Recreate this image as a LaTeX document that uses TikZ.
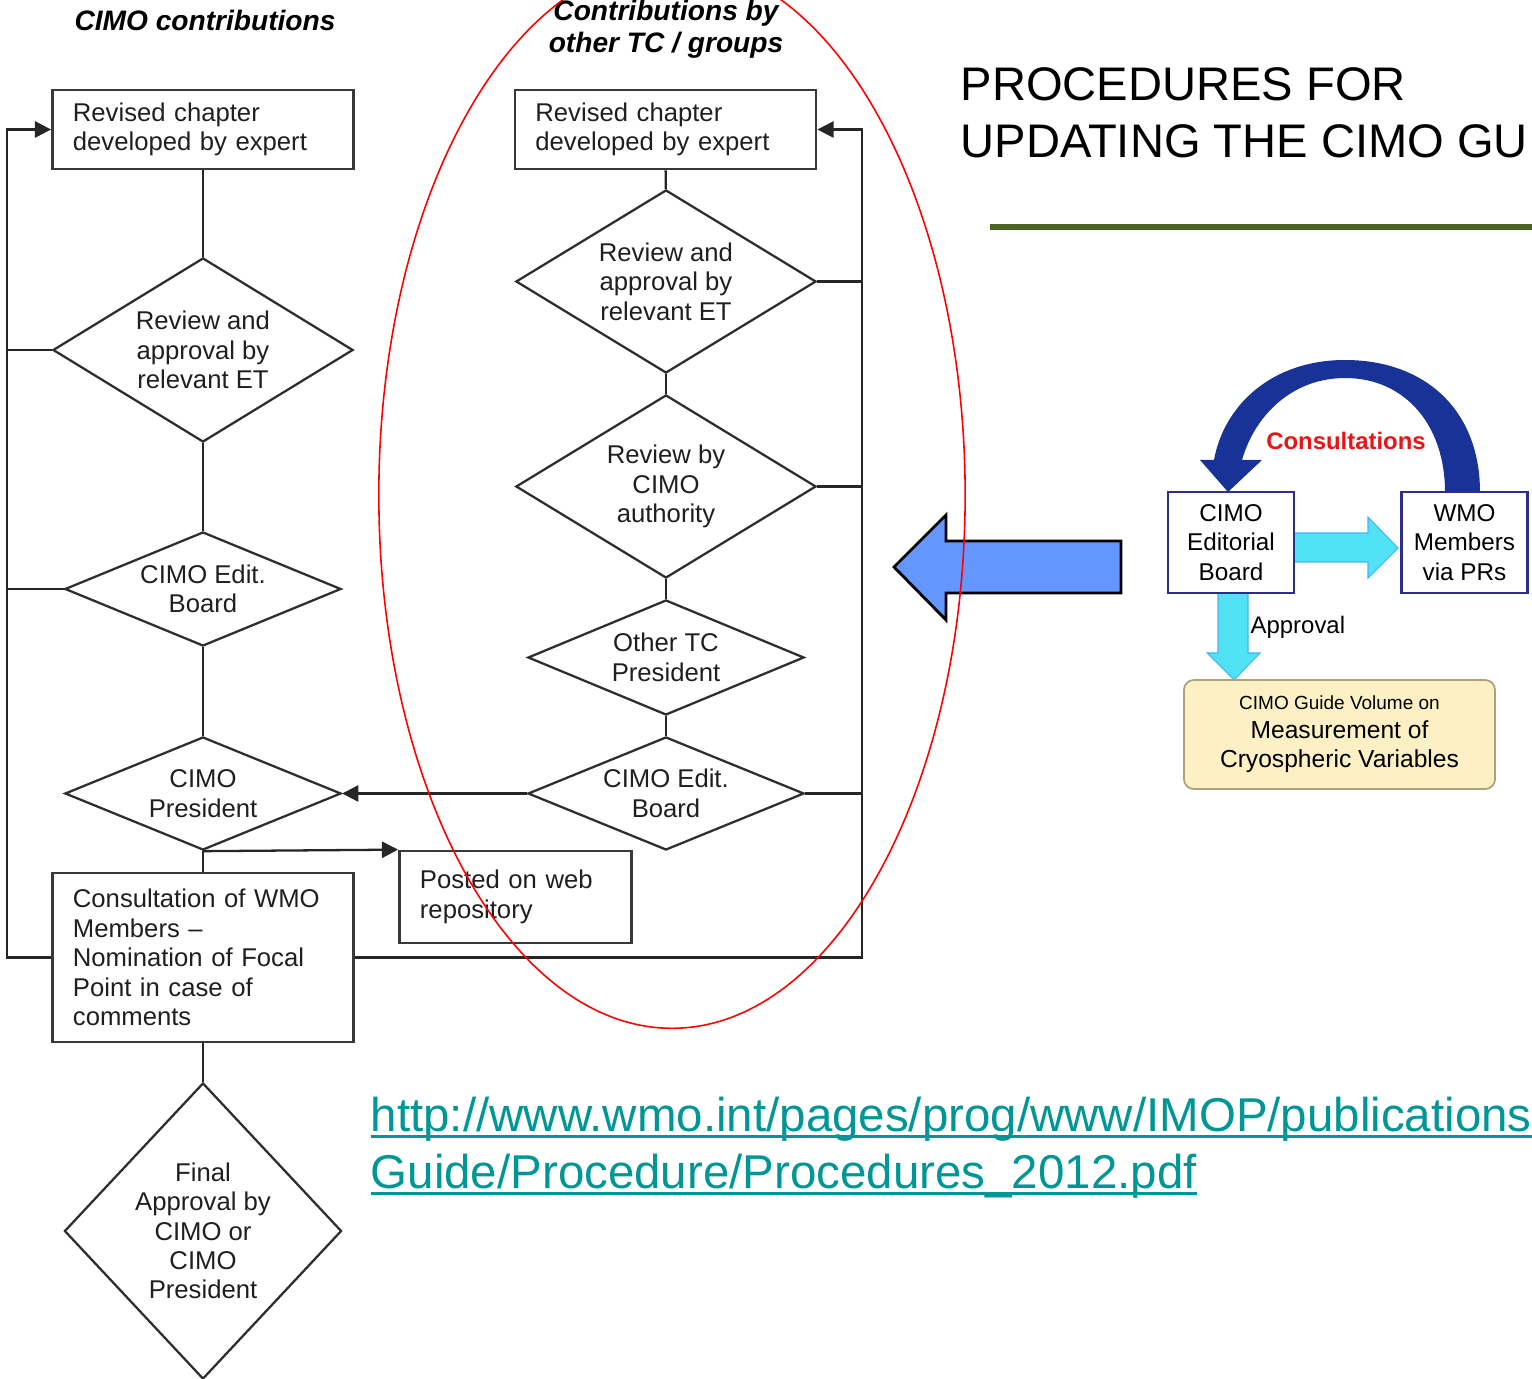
\documentclass[tikz,border=0pt]{standalone}
\usepackage{fontspec}
\setmainfont{Liberation Sans}
\usetikzlibrary{arrows.meta,shapes.geometric}

\definecolor{bigblue}{RGB}{100,150,255}
\definecolor{navyarc}{RGB}{24,50,152}
\definecolor{cyanarr}{RGB}{82,226,246}
\definecolor{boxnavy}{RGB}{46,46,136}
\definecolor{guidefill}{RGB}{252,240,196}
\definecolor{guideedge}{RGB}{172,162,124}
\definecolor{titlegreen}{RGB}{74,100,35}
\definecolor{linkteal}{RGB}{0,150,150}
\definecolor{consred}{RGB}{230,22,22}

% underlined link text
\newcommand{\ulink}[1]{\setbox0\hbox{#1}\rlap{\rule[-1.9pt]{\wd0}{0.8pt}}\box0}

\tikzset{
  flowtext/.style={font=\fontsize{7.3}{8.35}\selectfont, text=black!88},
  colhead/.style={font=\bfseries\itshape\fontsize{8}{9.1}\selectfont, align=center},
  stepbox/.style={flowtext, draw=black!78, line width=0.75pt, rectangle, text width=2.6cm,
    align=left, inner xsep=0.205cm, minimum height=0.79cm},
  decision/.style={flowtext, draw=black!82, line width=0.65pt, diamond, align=center,
    inner sep=0pt, minimum width=3cm, minimum height=1.84cm},
  flow/.style={draw=black!85, line width=0.65pt},
  edbox/.style={draw=boxnavy, line width=0.7pt, fill=white, align=center, inner sep=0pt,
    minimum width=1.26cm, minimum height=1.01cm, font=\fontsize{6.9}{8.4}\selectfont},
  guidebox/.style={draw=guideedge, fill=guidefill, line width=0.5pt, rounded corners=0.1cm,
    align=center, minimum width=3.11cm, minimum height=1.09cm, font=\fontsize{7}{8.2}\selectfont},
  cyanshape/.style={fill=cyanarr, draw=cyanarr!80!blue, line width=0.3pt}
}

\begin{document}
\begin{tikzpicture}[x=0.01cm, y=-0.01cm, >={Triangle[length=4.6pt,width=4.6pt]}]
    \useasboundingbox (0,0) rectangle (1532,1379);

    % column headings
    \node[colhead] (hcimo) at (205,20) {CIMO contributions};
    \node[colhead] (hother) at (666,29) {Contributions by\\other TC / groups};

    % CIMO column
    \node[stepbox] (b1) at (203,129.5) {Revised chapter\\developed by expert};
    \node[decision, aspect=1.63] (d1) at (203,350) {Review and\\approval by\\relevant ET};
    \node[decision, aspect=2.42, minimum width=2.76cm, minimum height=1.14cm] (d2) at (203,589) {CIMO Edit.\\Board};
    \node[decision, aspect=2.42, minimum width=2.76cm, minimum height=1.13cm] (d3) at (203,793.5) {CIMO\\President};
    \node[stepbox, minimum height=1.69cm] (cons) at (203,957.5) {Consultation of WMO\\Members --\\Nomination of Focal\\Point in case of\\comments};
    \node[decision, aspect=0.936, minimum width=2.77cm, minimum height=2.96cm] (fin) at (203,1231) {Final\\Approval by\\CIMO or\\CIMO\\President};
    \node[stepbox, text width=1.91cm, minimum height=0.92cm] (post) at (515.5,897) {Posted on web\\repository};

    % other TC column
    \node[stepbox] (r1) at (665.5,129.5) {Revised chapter\\developed by expert};
    \node[decision, aspect=1.63, minimum height=1.83cm] (rd1) at (666,281.5) {Review and\\approval by\\relevant ET};
    \node[decision, aspect=1.64, minimum height=1.83cm] (rd2) at (666,486.5) {Review by\\CIMO\\authority};
    \node[decision, aspect=2.42, minimum width=2.76cm, minimum height=1.15cm] (rd3) at (666,657.5) {Other TC\\President};
    \node[decision, aspect=2.42, minimum width=2.76cm, minimum height=1.13cm] (rd4) at (666,793.5) {CIMO Edit.\\Board};

    \foreach \a/\b in {b1/d1, d1/d2, d2/d3, d3/cons, cons/fin, r1/rd1, rd1/rd2, rd2/rd3, rd3/rd4}
        \draw[flow] (\a) -- (\b);

    % feedback loops
    \coordinate (lft) at (7,0);
    \coordinate (rgt) at (862,0);
    \draw[flow, ->] (cons.west) -- (cons.west -| lft) |- (b1.west);
    \foreach \n in {d1, d2}
        \draw[flow] (\n.west) -- (\n.west -| lft);
    \draw[flow, ->] (cons.east) -- (cons.east -| rgt) |- (r1.east);
    \foreach \n in {rd1, rd2, rd4}
        \draw[flow] (\n.east) -- (\n.east -| rgt);
    \draw[flow, ->] (rd4.west) -- (d3.east);
    \draw[flow, ->] (d3.south) -- (post.north west);

    % title
    \node[anchor=west, align=left, inner sep=0pt, font=\fontsize{13.4}{16.2}\selectfont] (title) at (960,113) {PROCEDURES FOR\\UPDATING THE CIMO GU};
    \draw[titlegreen, line width=1.45pt] (990,227) -- (1532,227);

    % link
    \node[anchor=north west, align=left, inner sep=0pt, text=linkteal, font=\fontsize{13.5}{16.2}\selectfont] (link) at (370,1096)
        {\ulink{http://www.wmo.int/pages/prog/www/IMOP/publications}\\\ulink{Guide/Procedure/Procedures\_2012.pdf}};

    % big arrow
    \draw[fill=bigblue, line width=0.8pt, line join=miter] (894,567) -- (946,515) -- (946,541) -- (1121,541)
        -- (1121,593) -- (946,593) -- (946,620) -- cycle;

    % consultation scheme
    \fill[navyarc] (1480,492) .. controls (1480,410) and (1425,360) .. (1345,360)
        .. controls (1272,360) and (1224,405) .. (1214,460) -- (1200,460) -- (1228,492) -- (1262,460) -- (1242,460)
        .. controls (1256,412) and (1295,378) .. (1345,378)
        .. controls (1405,378) and (1445,425) .. (1445,492) -- cycle;
    \draw[cyanshape] (1294,533) -- (1368,533) -- (1368,517) -- (1398,548) -- (1368,578) -- (1368,562) -- (1294,562) -- cycle;
    \draw[cyanshape] (1218,593) -- (1248,593) -- (1248,653) -- (1260,653) -- (1234,680) -- (1207,653) -- (1218,653) -- cycle;

    \node[edbox] (ceb) at (1231,542.5) {CIMO\\Editorial\\Board};
    \node[edbox] (wmo) at (1464.5,542.5) {WMO\\Members\\via PRs};
    \node[guidebox] (guide) at (1339.5,734.5) {{\fontsize{5.4}{6}\selectfont CIMO Guide Volume on}\\Measurement of\\Cryospheric Variables};
    \node[font=\bfseries\fontsize{6.8}{8}\selectfont, text=consred] (consl) at (1346,441) {Consultations};
    \node[anchor=west, inner sep=0pt, font=\fontsize{6.8}{8}\selectfont] (appr) at (1250,627) {Approval};

    % highlight
    \draw[red, line width=0.45pt] (672,495) ellipse [x radius=2.93cm, y radius=5.33cm];
\end{tikzpicture}
\end{document}
